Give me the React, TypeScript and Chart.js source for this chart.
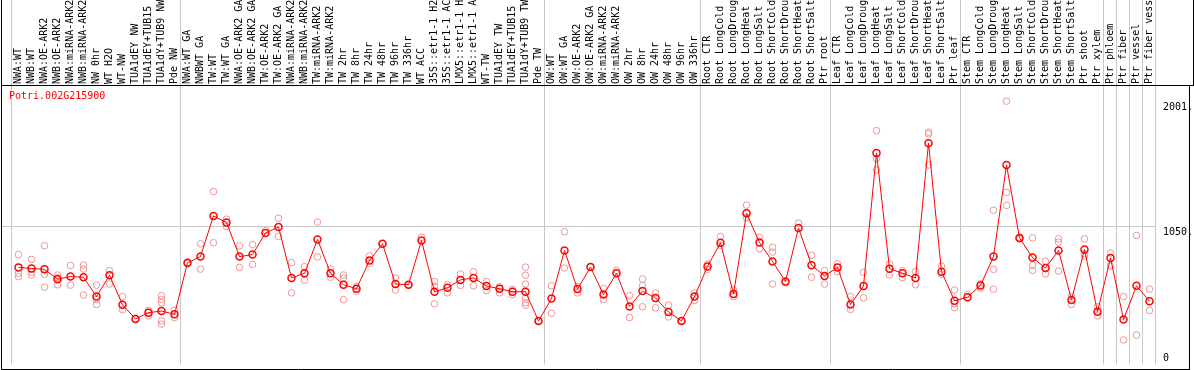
import { useEffect, useRef } from 'react';
import { Chart, registerables } from 'chart.js';

Chart.register(...registerables);

const geneName = 'Potri.002G215900';

const categories = [
  'NWA:WT', 'NWB:WT', 'NWA:OE-ARK2', 'NWB:OE-ARK2', 'NWA:miRNA-ARK2', 'NWB:miRNA-ARK2', 'NW 0hr', 'WT H2O', 'WT-NW',
  'TUA1dEY NW', 'TUA1dEY+TUB15', 'TUA1dY+TUB9 NW', 'Pde NW',
  'NWA:WT GA', 'NWBWT GA', 'TW:WT', 'TW:WT GA', 'NWA:OE-ARK2 GA', 'NWB:OE-ARK2 GA', 'TW:OE-ARK2', 'TW:OE-ARK2 GA',
  'NWA:miRNA-ARK2', 'NWB:miRNA-ARK2', 'TW:miRNA-ARK2', 'TW:miRNA-ARK2', 'TW 2hr', 'TW 8hr', 'TW 24hr', 'TW 48hr',
  'TW 96hr', 'TW 336hr', 'WT ACC', '35S::etr1-1 H2', '35S::etr1-1 AC', 'LMX5::etr1-1 H', 'LMX5::etr1-1 A', 'WT-TW',
  'TUA1dEY TW', 'TUA1dEY+TUB15', 'TUA1dY+TUB9 TW', 'Pde TW',
  'OW:WT', 'OW:WT GA', 'OW:OE-ARK2', 'OW:OE-ARK2 GA', 'OW:miRNA-ARK2', 'OW:miRNA-ARK2', 'OW 2hr', 'OW 8hr', 'OW 24hr',
  'OW 48hr', 'OW 96hr', 'OW 336hr',
  'Root CTR', 'Root LongCold', 'Root LongDroug', 'Root LongHeat', 'Root LongSalt', 'Root ShortCold', 'Root ShortDrou',
  'Root ShortHeat', 'Root ShortSalt', 'Ptr root',
  'Leaf CTR', 'Leaf LongCold', 'Leaf LongDroug', 'Leaf LongHeat', 'Leaf LongSalt', 'Leaf ShortCold', 'Leaf ShortDrou',
  'Leaf ShortHeat', 'Leaf ShortSalt', 'Ptr leaf',
  'Stem CTR', 'Stem LongCold', 'Stem LongDroug', 'Stem LongHeat', 'Stem LongSalt', 'Stem ShortCold', 'Stem ShortDrou',
  'Stem ShortHeat', 'Stem ShortSalt', 'Ptr shoot', 'Ptr xylem',
  'Ptr phloem', 'Ptr fiber', 'Ptr vessel', 'Ptr fiber vess',
];

const meanValues = [
  738, 730, 723, 648, 668, 663, 516, 678, 454, 346, 394, 406, 381,
  773, 820, 1129, 1079, 820, 835, 1000, 1044, 658, 693, 950, 693, 606, 576, 790, 917, 611, 606, 942, 553, 583, 643,
  658, 596, 576, 553, 553, 331,
  501, 867, 573, 740, 531, 693, 441, 558, 506, 399, 331, 516,
  745, 925, 536, 1149, 927, 783, 631, 1037, 755, 673,
  738, 456, 596, 1608, 728, 693, 658, 1682, 705, 484,
  511, 601, 820, 1516, 962, 813, 733, 867, 491, 873, 401,
  810, 342, 598, 481,
];

const replicateValues = [
  [835, 693, 668], [798, 701, 680], [902, 686, 588], [680, 606, 660], [753, 603], [755, 725, 528], [603, 493, 456],
  [713, 611], [516, 416], [349], [411, 369], [523, 493, 469, 331, 307], [413, 357],
  [773, 765], [917, 725], [1314, 925], [1104, 1049], [902, 738], [912, 760], [1017], [1111, 974], [775, 544],
  [743, 641], [1082, 817], [725, 663], [680, 656, 493], [591, 556], [825, 768], [917], [656, 566], [606], [967],
  [630, 593, 461], [606, 544], [688, 601], [705, 598], [630, 561], [591, 544], [570, 531],
  [740, 678, 611, 506, 469, 451], [331],
  [598, 389], [1009, 733], [593, 544], [742], [576, 493], [715], [523, 357], [650, 598, 439], [544, 431],
  [451, 361], [331], [544, 486],
  [763, 723], [972, 905], [568, 516], [1211, 1116], [967, 880], [890, 855, 611], [620], [1074], [830, 663],
  [713, 611],
  [765, 705], [516, 419], [701, 506], [1777, 1565, 1478], [763, 680], [713, 660], [705, 606], [1765, 1752, 1516],
  [748, 686], [566, 461, 431],
  [531], [613, 581], [1172, 723, 573], [2001, 1308, 1209], [967, 955], [962, 755, 715], [785, 688],
  [955, 930, 710], [518, 456], [955, 843, 825], [439, 369],
  [847, 748], [516, 187], [980, 224], [573, 411],
];

// index of the last category before each vertical separator (-1 = left edge)
const groupBreaks = [-1, 12, 40, 52, 62, 72, 83, 84, 85, 86, 87];

const yTickValues = [2001, 1050.5, 0];
const yTickLabels = ['2001.', '1050.', '0'];
const gridValues = [1050.5];
const yMax = 2101;

const MONO = '10px "DejaVu Sans Mono", monospace';

export default function App() {
  const ref = useRef<HTMLCanvasElement | null>(null);

  useEffect(() => {
    const canvas = ref.current;
    if (!canvas) return;

    const meanPoints = meanValues.map((v, i) => ({ x: i, y: v }));
    const replicatePoints = replicateValues.flatMap((vals, i) => vals.map((v) => ({ x: i, y: v })));

    const decor = {
      id: 'decor',
      beforeDatasetsDraw(chart: any) {
        const { ctx, chartArea, scales } = chart;
        const xs = scales.x;
        const ys = scales.y;
        ctx.save();
        ctx.strokeStyle = '#c8c8c8';
        ctx.lineWidth = 1;
        // horizontal grid
        for (const g of gridValues) {
          const py = Math.round(ys.getPixelForValue(g)) + 0.5;
          ctx.beginPath();
          ctx.moveTo(2, py);
          ctx.lineTo(chartArea.right - 1, py);
          ctx.stroke();
        }
        // vertical group separators
        for (const b of groupBreaks) {
          const px = Math.round((xs.getPixelForValue(b) + xs.getPixelForValue(b + 1)) / 2 - 1.5) + 0.5;
          ctx.beginPath();
          ctx.moveTo(px, 0);
          ctx.lineTo(px, chartArea.bottom);
          ctx.stroke();
        }
        ctx.restore();
      },
      afterDraw(chart: any) {
        const { ctx, chartArea, scales, width, height } = chart;
        const xs = scales.x;
        const ys = scales.y;
        ctx.save();
        // frame
        ctx.strokeStyle = '#000';
        ctx.lineWidth = 1;
        ctx.beginPath();
        ctx.moveTo(1.5, 0);
        ctx.lineTo(1.5, height);
        ctx.moveTo(1, 85.5);
        ctx.lineTo(width, 85.5);
        ctx.moveTo(1, height - 0.5);
        ctx.lineTo(width - 4, height - 0.5);
        ctx.moveTo(width - 4.5, 85);
        ctx.lineTo(width - 4.5, height);
        ctx.moveTo(width - 0.5, 0);
        ctx.lineTo(width - 0.5, 85);
        ctx.stroke();

        // category labels
        ctx.font = MONO;
        ctx.fillStyle = '#000';
        ctx.textAlign = 'left';
        ctx.textBaseline = 'middle';
        categories.forEach((label, i) => {
          const px = xs.getPixelForValue(i);
          ctx.save();
          ctx.translate(px, 84);
          ctx.rotate(-Math.PI / 2);
          ctx.fillText(label, 0, 0);
          ctx.restore();
        });

        // title
        ctx.fillStyle = '#ff0000';
        ctx.textBaseline = 'alphabetic';
        ctx.fillText(geneName, 9, 99);

        // y tick labels
        ctx.fillStyle = '#000';
        yTickValues.forEach((v, i) => {
          const py = ys.getPixelForValue(v);
          const base = py > chartArea.bottom - 10 ? py - 4 : py + 8.5;
          ctx.fillText(yTickLabels[i], chartArea.right + 7, base);
        });
        ctx.restore();
      },
    };

    const chart = new Chart(canvas, {
      type: 'line',
      data: {
        datasets: [
          {
            label: 'mean',
            data: meanPoints,
            borderColor: '#ff0000',
            borderWidth: 1,
            pointStyle: 'circle',
            pointRadius: 3.5,
            pointBorderWidth: 1.5,
            pointBorderColor: '#ff0000',
            pointBackgroundColor: 'rgba(0,0,0,0)',
            tension: 0,
            order: 0,
          },
          {
            label: 'replicates',
            data: replicatePoints,
            showLine: false,
            pointStyle: 'circle',
            pointRadius: 3.3,
            pointBorderWidth: 1,
            pointBorderColor: '#ec9696',
            pointBackgroundColor: 'rgba(0,0,0,0)',
            order: 1,
          },
        ],
      },
      options: {
        animation: false,
        responsive: false,
        events: [],
        layout: { padding: { left: 12, right: 38, top: 88, bottom: 1 } },
        plugins: {
          legend: { display: false },
          tooltip: { enabled: false },
        },
        scales: {
          x: { type: 'linear', min: -0.5, max: categories.length - 0.5, display: false },
          y: { type: 'linear', min: 0, max: yMax, display: false },
        },
      },
      plugins: [decor],
    });

    return () => chart.destroy();
  }, []);

  return (
    <div style={{ position: 'fixed', left: 0, top: 0, width: 1194, height: 370, background: '#fff' }}>
      <canvas ref={ref} width={1194} height={370} style={{ display: 'block' }} />
    </div>
  );
}
